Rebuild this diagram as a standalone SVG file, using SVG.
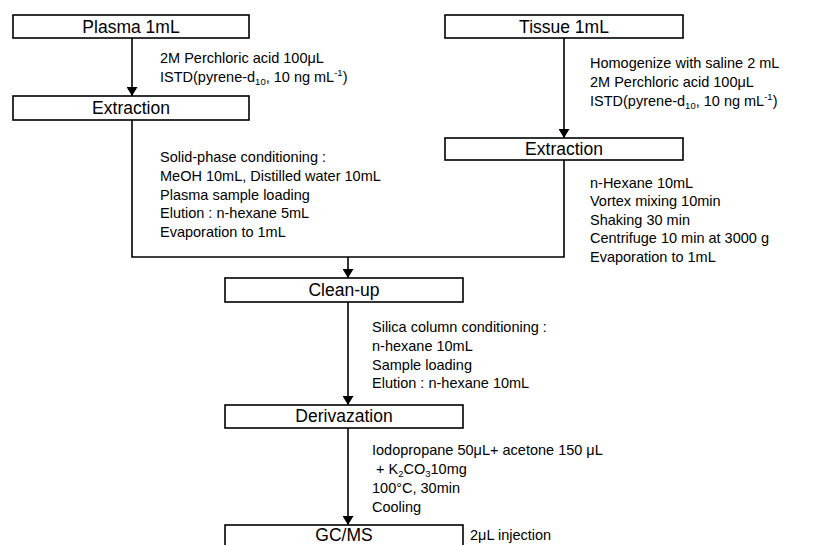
<svg xmlns="http://www.w3.org/2000/svg" width="814" height="545" viewBox="0 0 814 545">
<style>
.box{fill:#fff;stroke:#000;stroke-width:1.6}
.lbl{font-family:"Liberation Sans",Arial,sans-serif;font-size:17.5px;text-anchor:middle;fill:#000}
.t{font-family:"Liberation Sans",Arial,sans-serif;font-size:14.5px;fill:#000}
.ln{fill:none;stroke:#000;stroke-width:1.6}
</style>
<defs>
<marker id="ah" markerUnits="userSpaceOnUse" markerWidth="12" markerHeight="11" refX="9" refY="5.5" orient="auto">
<path d="M0,0 L9,5.5 L0,11 z" fill="#000"/>
</marker>
</defs>
<rect width="814" height="545" fill="#fff"/>
<g id="connectors">
<line class="ln" x1="132" y1="38" x2="132" y2="96" marker-end="url(#ah)"/>
<line class="ln" x1="564" y1="38" x2="564" y2="138" marker-end="url(#ah)"/>
<polyline class="ln" points="132,120 132,257 564,257 564,160"/>
<line class="ln" x1="348" y1="257" x2="348" y2="278" marker-end="url(#ah)"/>
<line class="ln" x1="348" y1="302" x2="348" y2="405" marker-end="url(#ah)"/>
<line class="ln" x1="348" y1="428" x2="348" y2="525" marker-end="url(#ah)"/>
</g>
<g id="plasma">
<rect class="box" x="13" y="15" width="236" height="23"/>
<text class="lbl" x="131" y="32.5">Plasma 1mL</text>
</g>
<g id="tissue">
<rect class="box" x="445" y="15" width="238" height="23"/>
<text class="lbl" x="564" y="32.5">Tissue 1mL</text>
</g>
<g id="extraction-left">
<rect class="box" x="13" y="96" width="236" height="24"/>
<text class="lbl" x="131" y="114">Extraction</text>
</g>
<g id="extraction-right">
<rect class="box" x="445" y="138" width="238" height="22"/>
<text class="lbl" x="564" y="155">Extraction</text>
</g>
<g id="cleanup">
<rect class="box" x="225" y="278" width="238" height="24"/>
<text class="lbl" x="344" y="296">Clean-up</text>
</g>
<g id="derivazation">
<rect class="box" x="225" y="405" width="238" height="23"/>
<text class="lbl" x="344" y="422">Derivazation</text>
</g>
<g id="gcms">
<rect class="box" x="225" y="525" width="238" height="30"/>
<text class="lbl" x="344" y="541">GC/MS</text>
</g>
<g id="notes">
<text class="t" x="160" y="63">2M Perchloric acid 100μL</text>
<text class="t" x="160" y="82">ISTD(pyrene-d<tspan font-size="9.5" dy="3">10</tspan><tspan dy="-3">, 10 ng mL</tspan><tspan font-size="9.5" dy="-6">-1</tspan><tspan dy="6">)</tspan></text>
<text class="t" x="590" y="68">Homogenize with saline 2 mL</text>
<text class="t" x="590" y="87">2M Perchloric acid 100μL</text>
<text class="t" x="590" y="106">ISTD(pyrene-d<tspan font-size="9.5" dy="3">10</tspan><tspan dy="-3">, 10 ng mL</tspan><tspan font-size="9.5" dy="-6">-1</tspan><tspan dy="6">)</tspan></text>
<text class="t" x="160" y="162">Solid-phase conditioning :</text>
<text class="t" x="160" y="181">MeOH 10mL, Distilled water 10mL</text>
<text class="t" x="160" y="200">Plasma sample loading</text>
<text class="t" x="160" y="218">Elution : n-hexane 5mL</text>
<text class="t" x="160" y="237">Evaporation to 1mL</text>
<text class="t" x="590" y="188">n-Hexane 10mL</text>
<text class="t" x="590" y="206">Vortex mixing 10min</text>
<text class="t" x="590" y="225">Shaking 30 min</text>
<text class="t" x="590" y="243">Centrifuge 10 min at 3000 g</text>
<text class="t" x="590" y="262">Evaporation to 1mL</text>
<text class="t" x="372" y="332">Silica column conditioning :</text>
<text class="t" x="372" y="351">n-hexane 10mL</text>
<text class="t" x="372" y="370">Sample loading</text>
<text class="t" x="372" y="388">Elution : n-hexane 10mL</text>
<text class="t" x="372" y="455">Iodopropane 50μL+ acetone 150 μL</text>
<text class="t" x="376" y="474">+ K<tspan font-size="9.5" dy="3">2</tspan><tspan dy="-3">CO</tspan><tspan font-size="9.5" dy="3">3</tspan><tspan dy="-3">10mg</tspan></text>
<text class="t" x="372" y="493">100°C, 30min</text>
<text class="t" x="372" y="512">Cooling</text>
<text class="t" x="470" y="540">2μL injection</text>
</g>
</svg>
